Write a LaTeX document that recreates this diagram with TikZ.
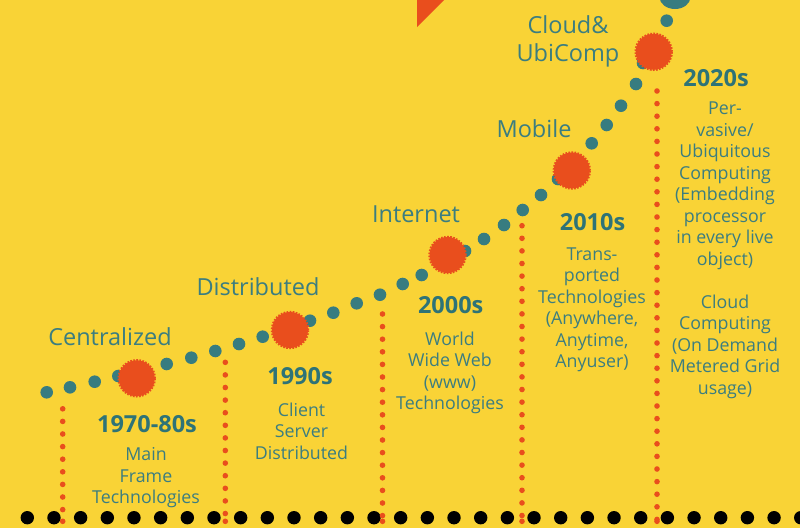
\documentclass[tikz,border=0pt]{standalone}
\usepackage{fontspec}
\setmainfont{Open Sans}

\definecolor{bgyellow}{HTML}{F9D336}
\definecolor{tealdot}{HTML}{377C80}
\definecolor{tealtext}{HTML}{3B7D80}
\definecolor{tealyear}{HTML}{2E7377}
\definecolor{burst}{HTML}{E94E1D}

\begin{document}
\begin{tikzpicture}[x=1pt,y=-1pt,
  % multi-line nodes sit on the baseline of their last line
  era/.style={font=\fontsize{23.5}{28}\selectfont, text=tealtext, inner sep=0pt, anchor=base, align=center},
  yearlabel/.style={font=\fontsize{23.5}{28}\selectfont\bfseries, text=tealyear, inner sep=0pt, anchor=base},
  desc/.style={font=\fontsize{17.8}{21.5}\selectfont, text=tealtext, inner sep=0pt, anchor=base, align=center},
  milestone/.style={circle, fill=burst, draw=burst, minimum size=36pt, inner sep=0pt,
                    line width=2.4pt, dash pattern=on 1.6pt off 1.4pt},
  dropline/.style={burst, line width=5.6pt, line cap=round, dash pattern=on 0pt off 12.6pt},
]
% canvas
\useasboundingbox (0,0) rectangle (800,528);
\fill[bgyellow] (0,0) rectangle (800,528);
\clip (0,0) rectangle (800,528);

% corner wedge
\fill[burst] (417,-2) -- (446,-2) -- (417,27) -- cycle;

% baseline of black dots
\foreach \k in {0,...,29}
  \fill[black] (27.3+26.67*\k,517.7) circle[radius=6.7pt];

% rising trail of teal dots
\foreach \px/\py in {46.7/392.3, 70/387.3, 94.7/381.7, 118.3/376, 142/370, 166.7/364,
    191.3/357.7, 215.3/351, 239/344, 262.7/336.7, 286.5/329, 310/320.7, 333.3/312.7,
    356.7/303.3, 380/294.7, 402.7/284, 421.7/275, 443/263, 465/251, 484/239, 504/225,
    522.7/210, 541/195, 558/179, 575/161, 591.7/143.3, 606.7/125, 621/105.7, 636/84,
    643/63, 655/42, 666.7/20.7}
  \fill[tealdot] (\px,\py) circle[radius=6.3pt];
\fill[tealdot] (675,-3) ellipse[x radius=15.5pt, y radius=12pt];

% milestones
\node[milestone] (m1) at (136.7,378.3) {};
\node[milestone] (m2) at (290,330) {};
\node[milestone] (m3) at (447.5,255) {};
\node[milestone] (m4) at (571.8,170.5) {};
\node[milestone] (m5) at (653.7,51.8) {};

% dotted drop lines
\foreach \name/\lx/\ltop in {d1/62.7/408.8, d2/225.3/362.3, d3/382.5/314, d4/522/225.7, d5/657/91}{
  \coordinate (\name top) at (\lx,\ltop);
  \coordinate (\name bot) at (\lx,521.3);
  \draw[dropline] (\name top) -- (\name bot);
  \fill[burst] (\name bot) circle[radius=2.8pt];
}

% era names
\node[era] (e1) at (110,345) {Centralized};
\node[era] (e2) at (258,295) {Distributed};
\node[era] (e3) at (416,222) {Internet};
\node[era] (e4) at (534,137) {Mobile};
\node[era] (e5) at (568,61) {Cloud\&\\UbiComp};

% decades
\node[yearlabel] (y1) at (147,432.7) {1970-80s};
\node[yearlabel] (y2) at (300,384) {1990s};
\node[yearlabel] (y3) at (450.7,313.3) {2000s};
\node[yearlabel] (y4) at (592.5,230) {2010s};
\node[yearlabel] (y5) at (716,86.7) {2020s};

% descriptions
\node[desc] (t1) at (146,503.5) {Main\\Frame\\Technologies};
\node[desc] (t2) at (301.5,459) {Client\\Server\\Distributed};
\node[desc] (t3) at (450,409.8) {World\\Wide Web\\(www)\\Technologies};
\node[desc] (t4) at (592,367.5) {Trans-\\ported\\Technologies\\(Anywhere,\\Anytime,\\Anyuser)};
\node[desc] (t5) at (725,394) {Per-\\vasive/\\Ubiquitous\\Computing\\(Embedding\\processor\\in every live\\object)\\\mbox{}\\Cloud\\Computing\\(On Demand\\Metered Grid\\usage)};
\end{tikzpicture}
\end{document}
